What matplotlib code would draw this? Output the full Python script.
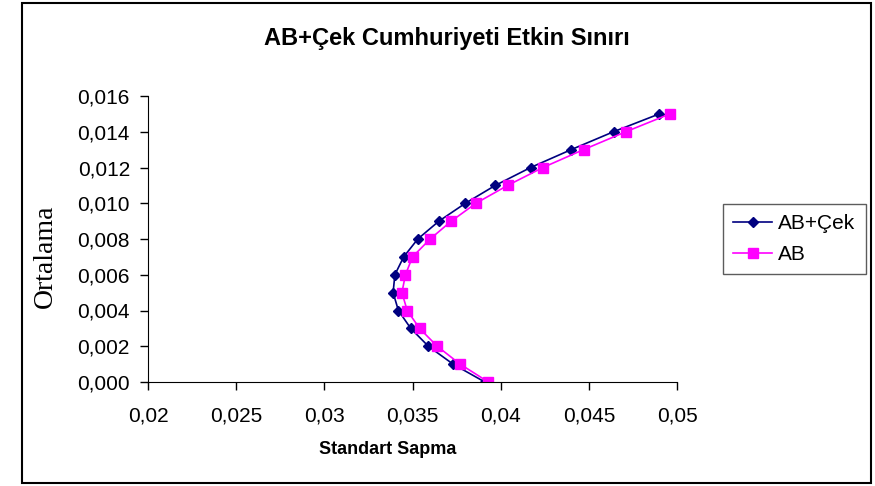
import matplotlib
matplotlib.use('Agg')
import matplotlib.pyplot as plt
from matplotlib.patches import Rectangle
from matplotlib.ticker import FuncFormatter

# Ortalama (mean) levels, shared by both series
ortalama = [0.000, 0.001, 0.002, 0.003, 0.004, 0.005, 0.006, 0.007,
            0.008, 0.009, 0.010, 0.011, 0.012, 0.013, 0.014, 0.015]
# Standart sapma (std dev) for each frontier
sapma_ab_cek = [0.0391, 0.0373, 0.0359, 0.0349, 0.0342, 0.0339, 0.0340, 0.0345,
                0.0353, 0.0365, 0.0380, 0.0397, 0.0417, 0.0440, 0.0464, 0.0490]
sapma_ab = [0.0393, 0.0377, 0.0364, 0.0354, 0.0347, 0.0344, 0.0346, 0.0350,
            0.0360, 0.0372, 0.0386, 0.0404, 0.0424, 0.0447, 0.0471, 0.0496]
xticks = [0.02, 0.025, 0.03, 0.035, 0.04, 0.045, 0.05]
yticks = [0.000, 0.002, 0.004, 0.006, 0.008, 0.010, 0.012, 0.014, 0.016]

plt.rcParams['font.family'] = ['Liberation Sans', 'DejaVu Sans']

fig = plt.figure(figsize=(8.75, 4.86), dpi=100)
ax = fig.add_axes([148/875, 1-382/486, (677-148)/875, (382-96)/486])

ax.plot(sapma_ab_cek, ortalama, color='#000080', lw=1.2, marker='D', ms=5.5, label='AB+Çek')
ax.plot(sapma_ab, ortalama, color='#FF00FF', lw=1.2, marker='s', ms=7, label='AB')

ax.set_xlim(0.02, 0.05)
ax.set_ylim(0, 0.016)
ax.set_xticks(xticks)
ax.set_yticks(yticks)
ax.xaxis.set_major_formatter(FuncFormatter(lambda v, p: ('%g' % round(v, 4)).replace('.', ',')))
ax.yaxis.set_major_formatter(FuncFormatter(lambda v, p: ('%.3f' % v).replace('.', ',')))
ax.tick_params(direction='out', length=6, width=1, labelsize=15)
ax.tick_params(axis='x', pad=12)
ax.tick_params(axis='y', pad=7)
ax.spines['top'].set_visible(False)
ax.spines['right'].set_visible(False)

ax.set_title('AB+Çek Cumhuriyeti Etkin Sınırı', fontsize=17, fontweight='bold', x=(447-148)/529, y=1.0, pad=37)
ax.set_xlabel('Standart Sapma', fontsize=13, fontweight='bold')
ax.xaxis.set_label_coords((388-148)/529, -(441-382)/286)
ax.set_ylabel('Ortalama', fontsize=20, family='Liberation Serif')
ax.yaxis.set_label_coords((58-148)/529, (382-256)/286)

leg = ax.legend(loc='upper left', bbox_to_anchor=(723/875, 1-204/486), bbox_transform=fig.transFigure,
                fontsize=15, frameon=True, fancybox=False, edgecolor='#333333', handlelength=1.85,
                handletextpad=0.3, borderpad=0.5, labelspacing=0.55, borderaxespad=0)
leg.get_frame().set_linewidth(1)

fig.patches.append(Rectangle((22/875, 1-483/486), (871-22)/875, (483-3)/486, transform=fig.transFigure,
                             fill=False, edgecolor='black', lw=1.5))

fig.savefig('out.png', dpi=100)
